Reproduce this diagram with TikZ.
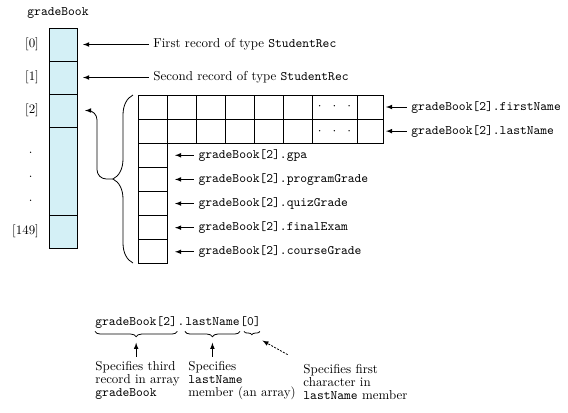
\documentclass[tikz,border=0pt]{standalone}
\usepackage{tikz}
\usetikzlibrary{positioning,decorations.pathreplacing}
\definecolor{slotcyan}{RGB}{212,240,246}

\begin{document}
\begin{tikzpicture}[x=0.75pt, y=-0.75pt, semithick,
  every node/.style = {font=\fontsize{9.7pt}{9.75pt}\selectfont},
  code/.style = {font=\ttfamily\fontsize{9.7pt}{9.75pt}\selectfont},
  part/.style = {code, anchor=base west, inner sep=0, text depth=2.5pt},
  slot/.style = {draw, fill=slotcyan, inner sep=0, outer sep=0,
    minimum width=21pt, minimum height=24.75pt},
  cell/.style = {draw, inner sep=0, outer sep=0,
    minimum width=21.75pt, minimum height=18.1pt},
  pointer/.style = {-latex, shorten >=4.5pt},
  brc/.style = {decorate, decoration={brace, amplitude=4pt}}]
  \useasboundingbox (0,0) rectangle (568,412);

  % the array of records
  \node[code] (title) at (58,13) {gradeBook};
  \node[slot] (c0) at (63,44.5) {};
  \node[slot, below=0pt of c0] (c1) {};
  \node[slot, below=0pt of c1] (c2) {};
  \node[slot, below=0pt of c2, minimum height=66pt] (cdots) {};
  \node[slot, below=0pt of cdots] (c149) {};
  \node[left=4pt of c0] (i0) {[0]};
  \node[left=4pt of c1] (i1) {[1]};
  \node[left=4pt of c2] (i2) {[2]};
  \node[left=8.8pt of cdots, yshift=-4.5pt, align=center] (idots) {.\\[8.25pt].\\[8.25pt].};
  \node[left=4pt of c149] (i149) {[149]};
  \node[right=53.7pt of c0] (rec0) {First record of type \texttt{StudentRec}};
  \node[right=53.7pt of c1] (rec1) {Second record of type \texttt{StudentRec}};
  \draw[pointer] (rec0) -- (c0);
  \draw[pointer] (rec1) -- (c1);

  % one record, gradeBook[2]
  \node[cell] (f1) at (152.5,107) {};
  \foreach \i [count=\j from 2] in {1,...,5}
    \node[cell, right=0pt of f\i] (f\j) {};
  \node[cell, right=0pt of f6, minimum width=33.75pt] (f7) {$\cdot\hspace{6pt}\cdot\hspace{6pt}\cdot$};
  \node[cell, right=0pt of f7, minimum width=19.5pt] (f8) {};
  \foreach \i in {1,...,6}
    \node[cell, below=0pt of f\i] (l\i) {};
  \node[cell, below=0pt of f7, minimum width=33.75pt] (l7) {$\cdot\hspace{6pt}\cdot\hspace{6pt}\cdot$};
  \node[cell, below=0pt of f8, minimum width=19.5pt] (l8) {};
  \node[cell, below=0pt of l1] (g1) {};
  \foreach \i [count=\j from 2] in {1,...,4}
    \node[cell, below=0pt of g\i] (g\j) {};

  \node[code, right=17.7pt of f8] (first) {gradeBook[2].firstName};
  \node[code, right=17.7pt of l8] (last) {gradeBook[2].lastName};
  \draw[-latex, shorten >=2.25pt] (first) -- (f8);
  \draw[-latex, shorten >=2.25pt] (last) -- (l8);
  \foreach \n/\f in {1/gpa, 2/programGrade, 3/quizGrade, 4/finalExam, 5/courseGrade} {
    \node[code, right=20pt of g\n] (m\n) {gradeBook[2].\f};
    \draw[pointer, shorten >=6pt] (m\n) -- (g\n);
  }

  \coordinate (btop) at (133,95);
  \coordinate (bbot) at (133,263);
  \coordinate (btip) at (113,179);
  \draw[decorate, decoration={brace, amplitude=15pt}] (bbot) -- (btop);
  \draw[-latex, rounded corners=7pt, shorten >=6pt] (btip) -| ([xshift=15pt]c2.east) -- (c2.east);

  % the selector expression
  \node[part] (sel) at (95,325) {gradeBook[2]};
  \node[part] (dotsep) at (sel.base east) {.};
  \node[part] (mem) at (dotsep.base east) {lastName};
  \node[part] (idx) at (mem.base east) {[0]};
  \draw[brc] ([yshift=-2pt]sel.south east) -- ([yshift=-2pt]sel.south west);
  \draw[brc] ([yshift=-2pt]mem.south east) -- ([yshift=-2pt]mem.south west);
  \draw[brc, decoration={amplitude=2.5pt}] ([xshift=-1pt, yshift=-2pt]idx.south east) -- ([xshift=3pt, yshift=-2pt]idx.south west);
  \coordinate (t1) at ([yshift=-6pt]sel.south);
  \coordinate (t2) at ([yshift=-6pt]mem.south);
  \coordinate (t3) at ([xshift=1pt, yshift=-4.5pt]idx.south);

  \node[align=left, anchor=north west] (spec1) at (90.6,356.6) {Specifies third\\record in array\\\texttt{gradeBook}};
  \node[align=left, anchor=north west] (spec2) at (183.6,356.6) {Specifies\\\texttt{lastName}\\member (an array)};
  \node[align=left, anchor=north west] (spec3) at (298.6,359.6) {Specifies first\\character in\\\texttt{lastName} member};
  \draw[pointer] (spec1.north -| t1) -- (t1);
  \draw[pointer] (spec2.north -| t2) -- (t2);
  \draw[-latex, dash pattern=on 1.5pt off 1pt, shorten >=9pt] ([shift={(-11,-5)}]spec3.north west) -- (t3);
\end{tikzpicture}
\end{document}
